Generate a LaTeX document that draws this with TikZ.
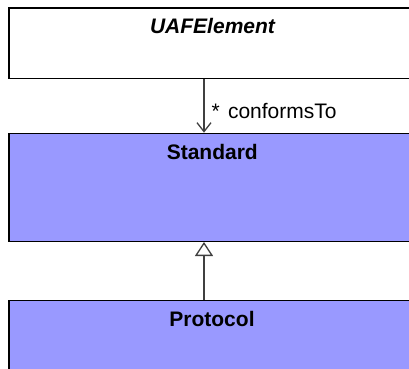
\documentclass[tikz,border=0pt]{standalone}
\usepackage{fontspec}
\setmainfont{Liberation Sans}
\usetikzlibrary{arrows.meta}
\begin{document}
\begin{tikzpicture}[x=1pt,y=1pt,
  classbox/.style={draw=black, line width=1.3pt, anchor=north west, minimum width=408pt, inner sep=0pt},
  uafbox/.style={classbox, fill=white},
  bluebox/.style={classbox, fill={rgb,255:red,153;green,153;blue,255}},
  title/.style={anchor=base, font=\fontsize{21}{25}\selectfont\bfseries},
  lbl/.style={anchor=base west, font=\fontsize{21}{25}\selectfont},
  conn/.style={draw={rgb,255:red,64;green,64;blue,64}, line width=1.3pt},
  assoc/.style={conn, -{Straight Barb[length=9pt,width=14pt,line width=1.3pt]}},
  gen/.style={conn, -{Triangle[open,length=14pt,width=18pt,line width=1.3pt]}}]
\useasboundingbox (0,0) rectangle (409,-368);
\node[uafbox, minimum height=70.4pt] (uaf) at (8.3,-7.3) {};
\node[bluebox, minimum height=108pt] (std) at (8.3,-132.7) {};
\node[bluebox, minimum height=100pt] (pro) at (8.3,-300) {};
\node[title, font=\fontsize{21}{25}\selectfont\bfseries\itshape] (uaft) at (212.5,-33.3) {UAFElement};
\node[title] (stdt) at (212.3,-159.3) {Standard};
\node[title] (prot) at (212,-326) {Protocol};
\coordinate (ax) at (204,0);
\draw[assoc] (uaf.south -| ax) -- (std.north -| ax);
\draw[gen] (pro.north -| ax) -- (std.south -| ax);
\node[lbl] (mult) at (208,-118.5) {*};
\node[lbl] (role) at (224.5,-118.5) {conformsTo};
\end{tikzpicture}
\end{document}
